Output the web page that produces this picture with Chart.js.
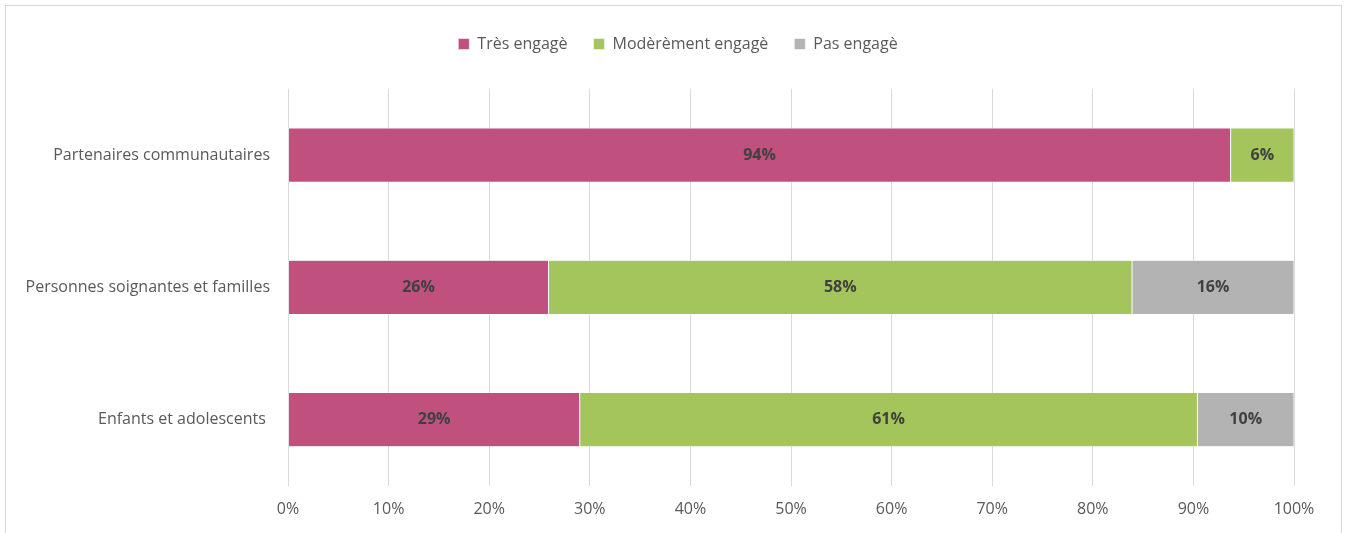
<!DOCTYPE html>
<html><head><meta charset="utf-8">
<script src="https://cdn.jsdelivr.net/npm/chart.js@4/dist/chart.umd.min.js"></script>
<style>
html,body{margin:0;padding:0;background:#fff;}
#wrap{position:absolute;left:0;top:0;width:1346px;height:533px;}
#frame{position:absolute;left:5px;top:5px;width:1335px;height:540px;border:1px solid #d9d9d9;pointer-events:none;}
</style></head>
<body>
<div id="wrap"><canvas id="c" width="1346" height="533"></canvas></div>
<div id="frame"></div>
<script>
const categories = ["Partenaires communautaires", "Personnes soignantes et familles", "Enfants et adolescents "];
const seriesNames = ["Très engagè", "Modèrèment engagè", "Pas engagè"];
const tresEngage = [93.7, 25.9, 29.0];
const moderementEngage = [6.3, 58.0, 61.4];
const pasEngage = [0, 16.1, 9.6];
const colors = ["#C0507E", "#A3C55C", "#B3B3B3"];
const FONT = "'Open Sans', sans-serif";

const labelPlugin = {
  id: 'barLabels',
  afterDatasetsDraw(chart) {
    const ctx = chart.ctx;
    ctx.save();
    ctx.font = "bold 16px " + FONT;
    ctx.fillStyle = "#404040";
    ctx.textAlign = "center";
    ctx.textBaseline = "middle";
    chart.data.datasets.forEach((ds, di) => {
      const meta = chart.getDatasetMeta(di);
      meta.data.forEach((bar, i) => {
        const v = ds.data[i];
        if (!v) return;
        const p = bar.getProps(['x', 'y', 'base'], true);
        ctx.fillText(Math.round(v) + "%", (p.x + p.base) / 2, p.y);
      });
    });
    ctx.restore();
  }
};

const legendSpace = {
  id: 'legendSpace',
  beforeInit(chart) {
    const orig = chart.legend.fit;
    chart.legend.fit = function () { orig.call(this); this.height += 27; };
  },
  afterLayout(chart) {
    chart.legend.left += 31;
    chart.legend.right += 31;
  }
};

new Chart(document.getElementById('c'), {
  type: 'bar',
  data: {
    labels: categories,
    datasets: [
      { label: seriesNames[0], data: tresEngage, backgroundColor: colors[0] },
      { label: seriesNames[1], data: moderementEngage, backgroundColor: colors[1] },
      { label: seriesNames[2], data: pasEngage, backgroundColor: colors[2] }
    ].map(d => Object.assign(d, { borderColor: '#ffffff', borderWidth: 0.5, borderSkipped: false, barPercentage: 0.82, categoryPercentage: 0.5 }))
  },
  options: {
    indexAxis: 'y',
    responsive: false,
    animation: false,
    layout: { padding: { top: 10, right: 52, bottom: 0, left: 0 } },
    plugins: {
      tooltip: { enabled: false },
      legend: {
        position: 'top',
        labels: {
          boxWidth: 11, boxHeight: 11, padding: 26,
          color: '#595959',
          font: { family: FONT, size: 16 }
        }
      }
    },
    scales: {
      x: {
        stacked: true,
        min: 0, max: 100,
        ticks: { stepSize: 10, color: '#595959', font: { family: FONT, size: 16 }, padding: 14, callback: v => v + '%' },
        grid: { color: '#d9d9d9', lineWidth: 1, drawTicks: false },
        border: { display: false }
      },
      y: {
        stacked: true,
        ticks: { color: '#595959', font: { family: FONT, size: 16 }, padding: 18 },
        grid: { display: false, drawTicks: false },
        border: { display: false },
        afterFit(scale) { scale.width = 288; }
      }
    }
  },
  plugins: [labelPlugin, legendSpace]
});
</script>
</body></html>
